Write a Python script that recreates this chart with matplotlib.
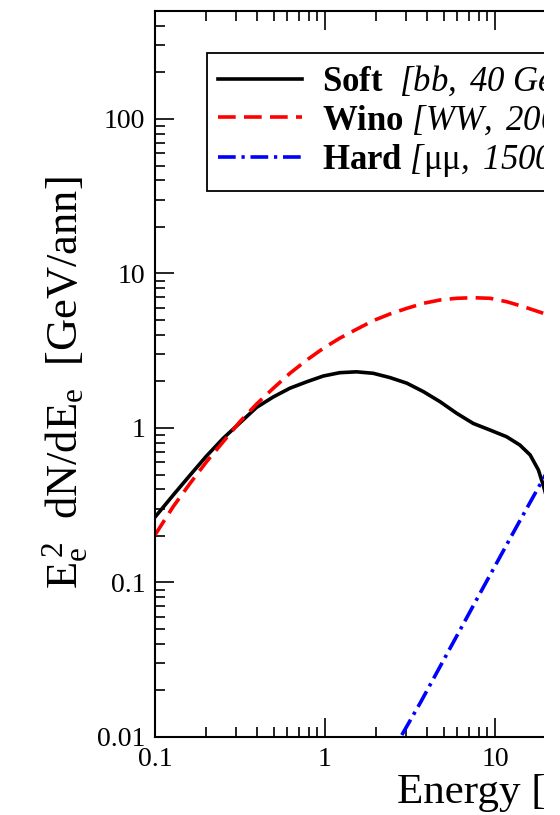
import matplotlib
matplotlib.use('Agg')
import matplotlib.pyplot as plt
import matplotlib.ticker as ticker
from matplotlib.patches import Rectangle

plt.rcParams['font.family'] = ['Liberation Serif', 'DejaVu Serif']
plt.rcParams['mathtext.fontset'] = 'custom'
plt.rcParams['mathtext.rm'] = 'Liberation Serif'
plt.rcParams['mathtext.it'] = 'Liberation Serif:italic'
plt.rcParams['mathtext.bf'] = 'Liberation Serif:bold'
# sf slot used for fully italic text (digits and brackets too)
plt.rcParams['mathtext.sf'] = 'Liberation Serif:italic'

# Soft [bb, 40 GeV]
soft_e = [0.1, 0.128, 0.161, 0.201, 0.252, 0.316, 0.396, 0.497, 0.622, 0.78,
          0.977, 1.22, 1.53, 1.92, 2.41, 3.03, 3.79, 4.75, 5.95, 7.45,
          9.35, 11.7, 14.0, 16.1, 18.0, 19.2, 22.0, 26.0]
soft_v = [0.265, 0.368, 0.496, 0.659, 0.858, 1.08, 1.36, 1.59, 1.81, 1.99,
          2.17, 2.28, 2.31, 2.26, 2.12, 1.95, 1.72, 1.48, 1.245, 1.07,
          0.97, 0.878, 0.776, 0.669, 0.535, 0.428, 0.25, 0.12]

# Wino [WW, 200 GeV]
wino_e = [0.1, 0.128, 0.161, 0.201, 0.252, 0.316, 0.396, 0.497, 0.622, 0.78,
          0.977, 1.22, 1.53, 1.92, 2.41, 3.03, 3.79, 4.75, 5.95, 7.45,
          9.35, 11.7, 14.7, 19.2, 25.0, 30.0]
wino_v = [0.203, 0.31, 0.439, 0.605, 0.815, 1.10, 1.43, 1.81, 2.26, 2.75,
          3.28, 3.81, 4.35, 4.95, 5.47, 5.95, 6.41, 6.74, 6.91, 6.97,
          6.91, 6.57, 6.10, 5.53, 5.0, 4.5]

# Hard [mu mu, 1500 GeV]
hard_e = [2.83, 3.62, 8.16, 13.4, 18.8, 25.0]
hard_v = [0.0103, 0.0165, 0.085, 0.23, 0.449, 0.79]

labels = [r'$\mathbf{Soft}$  $\mathsf{[bb,\ 40\ GeV]}$',
          r'$\mathbf{Wino}$ $\mathsf{[WW,\ 200\ GeV]}$',
          r'$\mathbf{Hard}$ $\mathsf{[}\mathrm{μμ}\mathsf{,\ 1500\ GeV]}$']

W, H = 560, 815
fig = plt.figure(figsize=(W / 100, H / 100), dpi=100)
ax_w = 731
ax = fig.add_axes([155 / W, 78 / H, ax_w / W, 726 / H])

ax.plot(soft_e, soft_v, color='black', lw=2.6, label=labels[0])
ax.plot(wino_e, wino_v, color='#ff0000', lw=2.6, dashes=(4.9, 2.3), label=labels[1])
ax.plot(hard_e, hard_v, color='#0000ff', lw=2.6, dashes=(4.9, 1.6, 0.9, 1.6), label=labels[2])

ax.set_xscale('log')
ax.set_yscale('log')
ax.set_xlim(0.1, 10 ** 3.3)
ax.set_ylim(0.01, 500)

fmt = ticker.FuncFormatter(lambda v, _: f'{v:g}')
ax.xaxis.set_major_formatter(fmt)
ax.yaxis.set_major_formatter(fmt)
ax.xaxis.set_minor_formatter(ticker.NullFormatter())
ax.yaxis.set_minor_formatter(ticker.NullFormatter())
ax.xaxis.set_minor_locator(ticker.LogLocator(subs=range(2, 10)))
ax.yaxis.set_minor_locator(ticker.LogLocator(subs=range(2, 10)))

ax.tick_params(which='both', direction='in', top=True, right=True, width=1.2)
ax.tick_params(which='major', length=14, labelsize=20, pad=7)
ax.tick_params(which='minor', length=7)
for s in ax.spines.values():
    s.set_linewidth(1.5)

ax.set_ylabel(r'$\mathrm{E}_\mathrm{e}^{\,2}$  dN/d$\mathrm{E}_\mathrm{e}$  [GeV/ann]', fontsize=32)
ax.yaxis.set_label_coords((90 - 155) / ax_w, (737 - 383) / 726)
ax.set_xlabel('Energy [GeV]', fontsize=31)
ax.xaxis.set_label_coords((397 - 155) / ax_w, (737 - 774) / 726)
ax.xaxis.label.set_horizontalalignment('left')

leg = ax.legend(loc='upper left', bbox_to_anchor=((207 - 155) / ax_w, (737 - 53) / 726),
                borderaxespad=0, fontsize=25, handlelength=2.42, handletextpad=0.55,
                labelspacing=0.14, borderpad=0.33, fancybox=False, framealpha=1,
                edgecolor='black')
leg.get_frame().set_linewidth(1.3)

# the reference image is cut off on the right
fig.add_artist(Rectangle((544 / W, 0), 1, 1, transform=fig.transFigure,
                         facecolor='white', edgecolor='none', zorder=10))

fig.savefig('out.png', dpi=100)
